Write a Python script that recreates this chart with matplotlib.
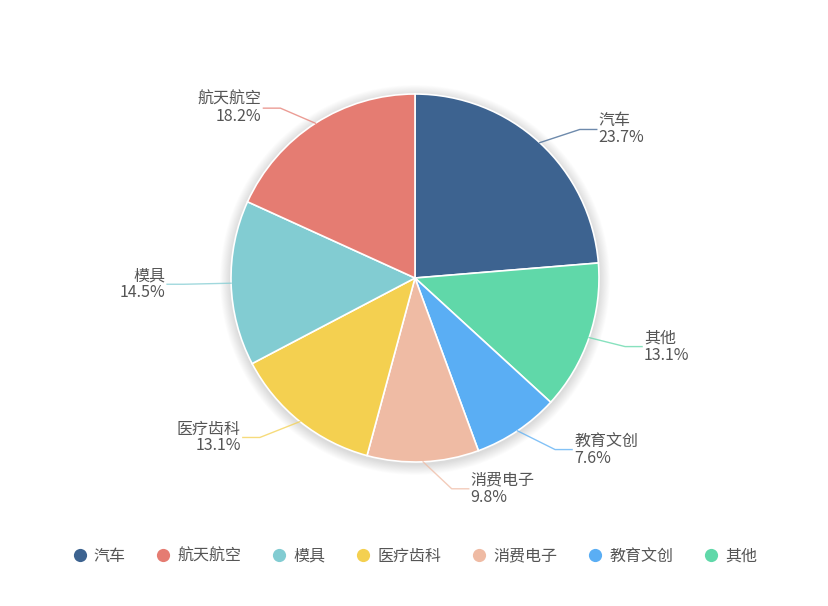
import numpy as np
import matplotlib
matplotlib.use("Agg")
import matplotlib.pyplot as plt
from matplotlib.lines import Line2D
from matplotlib.patches import Circle

plt.rcParams['font.family'] = ['Noto Sans CJK SC', 'DejaVu Sans']

# -------- Daten (im Uhrzeigersinn ab 12 Uhr) --------
names = ["汽车", "其他", "教育文创", "消费电子", "医疗齿科", "模具", "航天航空"]
shares = [23.7, 13.1, 7.6, 9.8, 13.1, 14.5, 18.2]
colors = ["#3d6390", "#60d8a9", "#5aaef4", "#efbba4", "#f4d050", "#82ccd2", "#e57c72"]

# Reihenfolge der Legende
legend_names = ["汽车", "航天航空", "模具", "医疗齿科", "消费电子", "教育文创", "其他"]

# Layout: Verschiebung der Beschriftungen (Pixel, x nach rechts, y nach oben)
label_shift = [(15, -14), (1, 3), (17, 12), (27, 10), (-17, 13), (-10, 0), (-15, -16)]

W, H = 829, 606
cx, cy, R = 415, H - 278, 184

fig = plt.figure(figsize=(W / 100, H / 100), dpi=100)
ax = fig.add_axes([0, 0, 1, 1])

# weicher Schatten
for i in range(12):
    ax.add_patch(Circle((cx, cy - 2), R + 1 + i * 0.9, color="black",
                        alpha=0.012, lw=0, zorder=1))

wedges, _ = ax.pie(shares, colors=colors, startangle=90, counterclock=False,
                   center=(cx, cy), radius=R, frame=True,
                   wedgeprops=dict(edgecolor="white", linewidth=1.2, zorder=2))
ax.set_xlim(0, W)
ax.set_ylim(0, H)
ax.set_aspect("equal")
ax.axis("off")

# -------- Beschriftungen mit Führungslinien --------
len1, len2 = 37, 17
for w, name, val, col, (sx, sy) in zip(wedges, names, shares, colors, label_shift):
    ang = np.deg2rad((w.theta1 + w.theta2) / 2)
    ca, sa = np.cos(ang), np.sin(ang)
    x0, y0 = cx + R * ca, cy + R * sa
    x1, y1 = cx + (R + len1) * ca + sx, cy + (R + len1) * sa + sy
    side = 1 if ca >= 0 else -1
    x2 = x1 + side * len2
    ax.plot([x0, x1, x2], [y0, y1, y1], color=col, lw=1, alpha=0.75, zorder=3)
    ax.text(x2 + side * 2, y1, f"{name}\n{val:.1f}%",
            ha="left" if side > 0 else "right", va="center",
            fontsize=11.5, color="#555555", linespacing=1.0, zorder=4)

# -------- Legende --------
handles = [Line2D([], [], marker="o", ls="none", markersize=9.5,
                  markerfacecolor=colors[names.index(n)], markeredgewidth=0)
           for n in legend_names]
fig.legend(handles, legend_names, loc="center", ncol=7,
           bbox_to_anchor=(0.5, 1 - 556 / H), frameon=False,
           fontsize=11.5, labelcolor="#555555", handletextpad=0.4,
           columnspacing=1.85, handlelength=1.0)

fig.savefig("out.png", dpi=100)
